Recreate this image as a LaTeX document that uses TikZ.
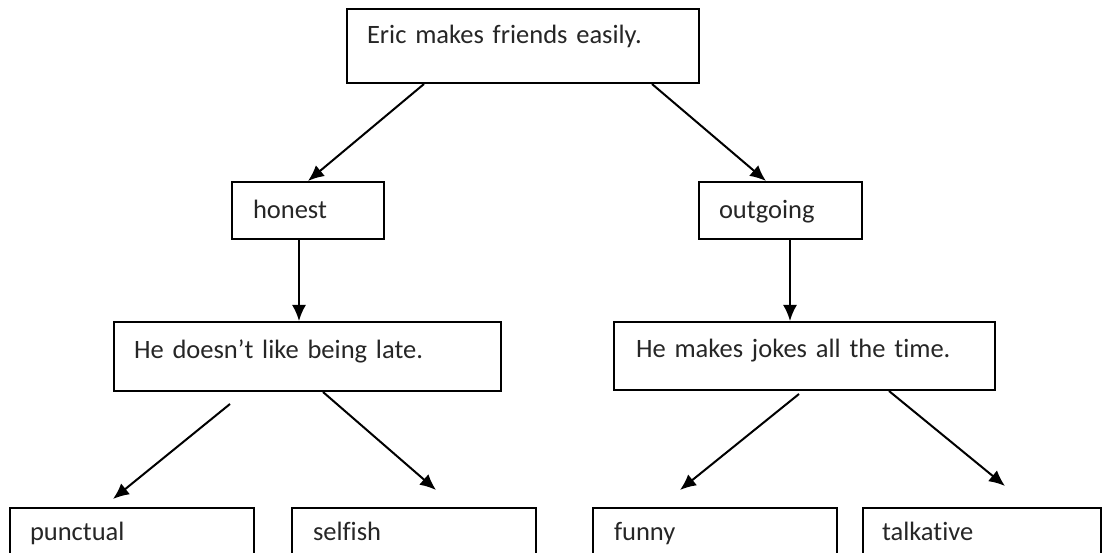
\documentclass[tikz,border=0pt]{standalone}
\usepackage{fontspec}
\setmainfont[Ligatures=NoCommon]{Carlito}
\usetikzlibrary{arrows.meta,calc}
\tikzset{
  box/.style={draw, line width=2pt, anchor=north west, inner ysep=0pt, align=left,
    font=\fontsize{26.5}{31}\selectfont, text=black!85},
  conn/.style={line width=2pt, -{Latex[length=16pt,width=14pt]}}
}
\begin{document}
\begin{tikzpicture}[x=1pt,y=1pt]
\useasboundingbox (0,0) rectangle (1106,-553);
\clip (0,0) rectangle (1106,-553);
\fill[white] (0,0) rectangle (1106,-553);
% boxes
\node[box, inner xsep=20pt, text width=312pt, text height=35pt, text depth=39pt] (top) at (346,-8) {Eric makes friends easily.};
\node[box, inner xsep=21pt, text width=110pt, text height=37pt, text depth=20pt] (honest) at (231,-181) {honest};
\node[box, inner xsep=20pt, text width=123pt, text height=37pt, text depth=20pt] (outgoing) at (698,-181) {outgoing};
\node[box, inner xsep=20pt, text width=347pt, text height=37pt, text depth=32pt] (late) at (113,-321) {He doesn’t like being late.};
\node[box, inner xsep=22pt, text width=337pt, text height=36pt, text depth=32pt] (jokes) at (613,-321) {He makes jokes all the time.};
\node[box, inner xsep=20pt, text width=204pt, text height=32pt, text depth=33pt] (punctual) at (9,-507) {punctual};
\node[box, inner xsep=21pt, text width=202pt, text height=32pt, text depth=33pt] (selfish) at (291,-507) {selfish};
\node[box, inner xsep=21pt, text width=202pt, text height=32pt, text depth=33pt] (funny) at (592,-507) {funny};
\node[box, inner xsep=19pt, text width=200pt, text height=32pt, text depth=33pt] (talkative) at (862,-507) {talkative};
% connectors
\draw[conn] ($(top.south west)+(78,0)$) -- ($(honest.north west)+(77,0)$);
\draw[conn] ($(top.south west)+(306,0)$) -- ($(outgoing.north west)+(68,0)$);
\draw[conn] ($(honest.south west)+(68,0)$) -- ($(late.north west)+(186,0)$);
\draw[conn] ($(outgoing.south west)+(92,0)$) -- ($(jokes.north west)+(177,0)$);
\draw[conn] ($(late.south west)+(117,-12)$) -- ($(punctual.north west)+(104,8)$);
\draw[conn] ($(late.south west)+(210,0)$) -- ($(selfish.north west)+(145,17)$);
\draw[conn] ($(jokes.south west)+(186,-3)$) -- ($(funny.north west)+(88,17)$);
\draw[conn] ($(jokes.south west)+(276,0)$) -- ($(talkative.north west)+(143,21)$);
\end{tikzpicture}
\end{document}
